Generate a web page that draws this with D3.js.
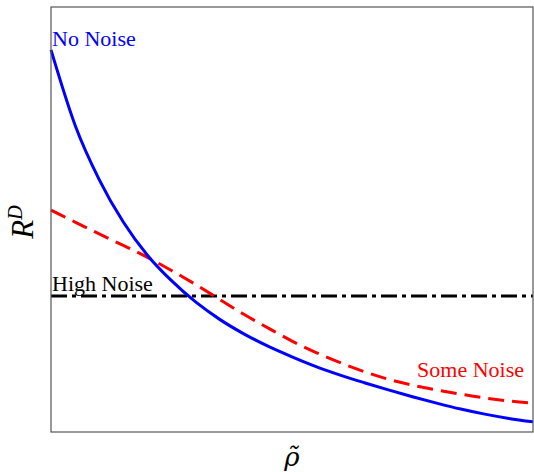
<!DOCTYPE html>
<meta charset="UTF-8">
<head>
  <script src="https://cdnjs.cloudflare.com/ajax/libs/d3/7.8.5/d3.min.js"></script>
</head>
<style>
  body { margin: 0; background: #fff; }
  svg text { font-family: "Liberation Serif", "DejaVu Serif", serif; }
</style>
<body>
<div id="chart"></div>
<script>
// rho tilde grid (normalised 0..1)
var rho = [0, 0.05, 0.10, 0.15, 0.20, 0.25, 0.30, 0.35, 0.40, 0.45, 0.50,
           0.55, 0.60, 0.65, 0.70, 0.75, 0.80, 0.85, 0.90, 0.95, 1.00];

var noNoise = [0.899, 0.722, 0.594, 0.494, 0.416, 0.356, 0.306, 0.265, 0.231, 0.202, 0.177,
               0.154, 0.134, 0.116, 0.099, 0.083, 0.068, 0.054, 0.042, 0.032, 0.024];

var someNoise = [0.522, 0.494, 0.466, 0.439, 0.411, 0.380, 0.347, 0.312, 0.277, 0.245, 0.214,
                 0.187, 0.163, 0.142, 0.124, 0.110, 0.099, 0.089, 0.080, 0.073, 0.068];

var highNoise = 0.32;

var width = 534, height = 472;
var margin = {left: 51, right: 1, top: 7, bottom: 40};

var svg = d3.select("#chart").append("svg")
  .attr("width", width)
  .attr("height", height);

var x = d3.scaleLinear().domain([0, 1]).range([margin.left, width - margin.right]);
var y = d3.scaleLinear().domain([0, 1]).range([height - margin.bottom, margin.top]);

var line = d3.line()
  .x(function(d) { return x(d[0]); })
  .y(function(d) { return y(d[1]); })
  .curve(d3.curveMonotoneX);

// high noise (flat)
svg.append("path")
  .datum([[0, highNoise], [1, highNoise]])
  .attr("d", line)
  .attr("fill", "none")
  .attr("stroke", "#000")
  .attr("stroke-width", 3)
  .attr("stroke-dasharray", "16,5,4,5");

svg.append("path")
  .datum(rho.map(function(v, i) { return [v, someNoise[i]]; }))
  .attr("d", line)
  .attr("fill", "none")
  .attr("stroke", "#ff0000")
  .attr("stroke-width", 3)
  .attr("stroke-dasharray", "16,8");

svg.append("path")
  .datum(rho.map(function(v, i) { return [v, noNoise[i]]; }))
  .attr("d", line)
  .attr("fill", "none")
  .attr("stroke", "#0000ff")
  .attr("stroke-width", 3);

// frame
svg.append("rect")
  .attr("x", x(0))
  .attr("y", y(1))
  .attr("width", x(1) - x(0))
  .attr("height", y(0) - y(1))
  .attr("fill", "none")
  .attr("stroke", "#555")
  .attr("stroke-width", 1.2);

// labels on lines
svg.append("text")
  .attr("x", x(0) + 1).attr("y", 46)
  .attr("fill", "#0000ff").style("font-size", "22px")
  .text("No Noise");

svg.append("text")
  .attr("x", x(0) + 1).attr("y", 291)
  .attr("fill", "#000").style("font-size", "22px")
  .text("High Noise");

svg.append("text")
  .attr("x", 524).attr("y", 377)
  .attr("text-anchor", "end")
  .attr("fill", "#ff0000").style("font-size", "22px")
  .text("Some Noise");

// axis titles
var yl = svg.append("text")
  .attr("transform", "translate(33,222) rotate(-90)")
  .attr("text-anchor", "middle")
  .style("font-size", "31px")
  .style("font-style", "italic");
yl.append("tspan").text("R");
yl.append("tspan").attr("dy", -11).style("font-size", "20px").text("D");

svg.append("text")
  .attr("x", (x(0) + x(1)) / 2)
  .attr("y", 466)
  .attr("text-anchor", "middle")
  .style("font-family", "DejaVu Serif")
  .style("font-size", "26px")
  .style("font-style", "italic")
  .text("\u03C1\u0303");
</script>
</body>
